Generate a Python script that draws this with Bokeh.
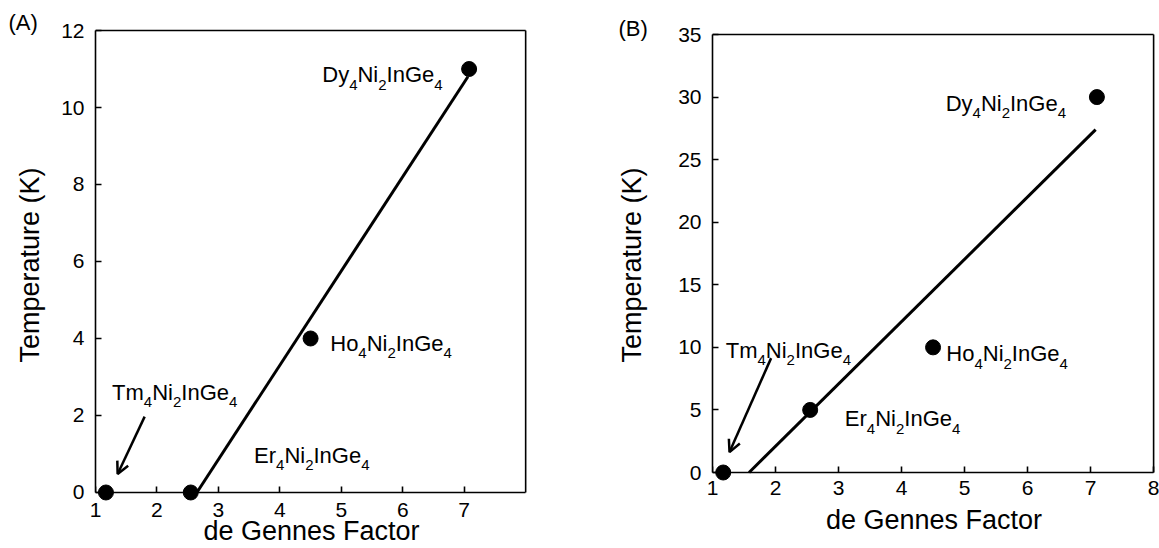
from bokeh.plotting import figure
from bokeh.models import (ColumnDataSource, FixedTicker, Arrow, OpenHead, LinearAxis)
from bokeh.layouts import row
from bokeh.core.properties import value
from bokeh.embed import file_html
from bokeh.resources import INLINE

# ---------------- data ----------------
compounds = ["Tm4Ni2InGe4", "Er4Ni2InGe4", "Ho4Ni2InGe4", "Dy4Ni2InGe4"]

# panel A
dg_A = [1.17, 2.55, 4.50, 7.08]
T_A = [0, 0, 4, 11]
fit_A_x = [2.65, 7.06]
fit_A_y = [0.0, 10.8]
lab_A_x = [1.27, 3.58, 4.82, 4.69]
lab_A_y = [2.60, 0.97, 3.87, 10.85]
arrow_A = [1.80, 1.97, 1.36, 0.48]
xticks_A = [1, 2, 3, 4, 5, 6, 7]
yticks_A = [0, 2, 4, 6, 8, 10, 12]

# panel B
dg_B = [1.17, 2.55, 4.50, 7.10]
T_B = [0, 5, 10, 30]
fit_B_x = [1.58, 7.08]
fit_B_y = [0.0, 27.4]
lab_B_x = [1.21, 3.10, 4.71, 4.70]
lab_B_y = [9.76, 4.29, 9.48, 29.5]
arrow_B = [1.93, 9.14, 1.27, 1.63]
xticks_B = [1, 2, 3, 4, 5, 6, 7, 8]
yticks_B = [0, 5, 10, 15, 20, 25, 30, 35]

FONT = "Liberation Sans"
MAIN_PX = 22
SUB_PX = 15
SUB_DROP = 10

# Arial / Liberation Sans advance widths (per 1000 em)
ADV = {"D": 722, "y": 500, "N": 722, "i": 222, "I": 278, "n": 556, "G": 778,
       "e": 556, "T": 611, "m": 833, "H": 722, "o": 556, "E": 667, "r": 333}
for d in "0123456789":
    ADV[d] = 556


def pieces(formula):
    segs = []
    cur = ""
    for ch in formula:
        if cur and (ch.isdigit() != cur[-1].isdigit()):
            segs.append(cur)
            cur = ""
        cur += ch
    segs.append(cur)
    return segs


def label_sources(xs, ys):
    main = dict(x=[], y=[], t=[], dx=[])
    sub = dict(x=[], y=[], t=[], dx=[])
    for f, x0, y0 in zip(compounds, xs, ys):
        off = 0.0
        for s in pieces(f):
            is_sub = s.isdigit()
            size = SUB_PX if is_sub else MAIN_PX
            tgt = sub if is_sub else main
            tgt["x"].append(x0)
            tgt["y"].append(y0)
            tgt["t"].append(s)
            tgt["dx"].append(off)
            off += sum(ADV[c] for c in s) * size / 1000.0
    return ColumnDataSource(main), ColumnDataSource(sub)


def style_axis(ax):
    ax.axis_line_width = 1.6
    ax.major_tick_line_width = 1.6
    ax.major_tick_in = 6
    ax.major_tick_out = 0
    ax.minor_tick_line_color = None
    ax.major_label_text_font = FONT
    ax.major_label_text_font_size = "21px"
    ax.major_label_text_color = "black"
    ax.axis_label_text_font = FONT
    ax.axis_label_text_font_size = "27px"
    ax.axis_label_text_font_style = "normal"
    ax.axis_label_text_color = "black"


def make_panel(name, dg, T, fx, fy, lx, ly, arr, xticks, yticks, xr, yr,
               width, height, borders, y_title_standoff, x_lab_standoff,
               x_title_standoff, tag_offset, tag_standoff):
    p = figure(width=width, height=height, x_range=xr, y_range=yr,
               output_backend="svg", toolbar_location=None,
               min_border_left=borders[0], min_border_right=borders[1],
               min_border_top=borders[2], min_border_bottom=borders[3])
    p.grid.visible = False
    p.outline_line_color = None
    p.background_fill_color = "white"
    p.border_fill_color = "white"

    # panel tag as title
    p.title.text = name
    p.title.align = "left"
    p.title.offset = tag_offset
    p.title.standoff = tag_standoff
    p.title.text_font = FONT
    p.title.text_font_size = "22px"
    p.title.text_font_style = "normal"
    p.title.text_color = "black"

    # frame: top and right lines
    p.segment(x0=[xticks[0], 8], y0=[yticks[-1], 0], x1=[8, 8], y1=[yticks[-1], yticks[-1]],
              line_color="black", line_width=1.6)

    # x axis line and ticks at T = 0
    xa = p.xaxis[0]
    style_axis(xa)
    xa.ticker = FixedTicker(ticks=xticks)
    xa.bounds = (1, 8)
    xa.fixed_location = 0
    xa.major_label_text_color = None
    xa.major_label_standoff = 0
    xa.axis_label = None

    # x tick labels and title below
    xl = LinearAxis(ticker=FixedTicker(ticks=xticks), axis_label="de Gennes Factor")
    style_axis(xl)
    xl.axis_line_color = None
    xl.major_tick_line_color = None
    xl.major_label_standoff = x_lab_standoff
    xl.axis_label_standoff = x_title_standoff
    p.add_layout(xl, "below")

    ya = p.yaxis[0]
    style_axis(ya)
    ya.ticker = FixedTicker(ticks=yticks)
    ya.bounds = (yticks[0], yticks[-1])
    ya.axis_label = "Temperature (K)"
    ya.major_label_standoff = 11
    ya.axis_label_standoff = y_title_standoff

    # fit line
    p.line(fx, fy, line_color="black", line_width=3)
    # points
    p.scatter(dg, T, size=15, fill_color="black", line_color="black")

    # arrow
    p.add_layout(Arrow(x_start=arr[0], y_start=arr[1], x_end=arr[2], y_end=arr[3],
                       line_width=2.5, line_color="black",
                       end=OpenHead(size=12, line_width=2.5, line_color="black")))

    # formula labels
    msrc, ssrc = label_sources(lx, ly)
    p.text(x="x", y="y", text="t", x_offset="dx", source=msrc,
           text_font=value(FONT), text_font_size=value(f"{MAIN_PX}px"),
           text_baseline="alphabetic", text_align="left", text_color="black")
    p.text(x="x", y="y", text="t", x_offset="dx", y_offset=SUB_DROP, source=ssrc,
           text_font=value(FONT), text_font_size=value(f"{SUB_PX}px"),
           text_baseline="alphabetic", text_align="left", text_color="black")
    return p


# both frames share top (28 px) and bottom (501 px) in the row layout
pA = make_panel("(A)", dg_A, T_A, fit_A_x, fit_A_y, lab_A_x, lab_A_y, arrow_A,
                xticks_A, yticks_A, (1, 8.03), (-0.234, 12.052),
                600, 548, (95, 73, 28, 47), 13, 1, -4, -87, -12)
pB = make_panel("(B)", dg_B, T_B, fit_B_x, fit_B_y, lab_B_x, lab_B_y, arrow_B,
                xticks_B, yticks_B, (1, 8.03), (-2.317, 35.48),
                559, 548, (112, 4, 28, 47), 28, -21, 7, -94, -24)

layout = row(pA, pB)
open("out.html", "w").write(file_html(layout, INLINE))
